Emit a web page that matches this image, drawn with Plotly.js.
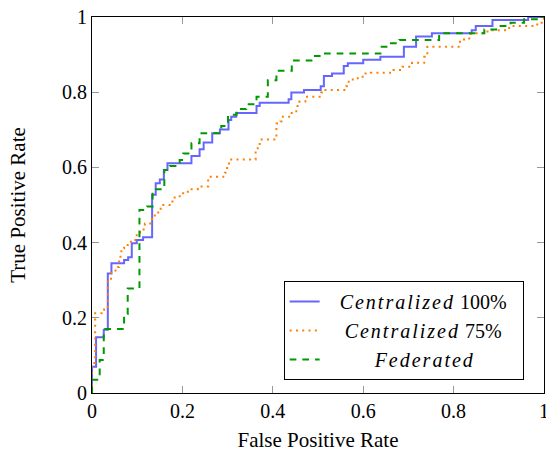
<!DOCTYPE html>
<html>
<head>
<meta charset="utf-8">
<script src="https://cdn.plot.ly/plotly-3.0.1.min.js"></script>
<style>html,body{margin:0;padding:0;background:#fff;}#plot{width:546px;height:452px;}</style>
</head>
<body>
<div id="plot"></div>
<script>
// Centralized 100% (blue)
const fprCentral100 = [0,0,0.009,0.026,0.035,0.043,0.071,0.080,0.088,0.099,0.113,0.133,0.141,0.150,0.159,0.167,0.220,0.238,0.247,0.266,0.283,0.302,0.308,0.319,0.364,0.371,0.435,0.441,0.469,0.506,0.513,0.531,0.557,0.566,0.600,0.638,0.690,0.717,0.752,0.840,0.849,0.886,0.965,1];
const tprCentral100 = [0,0.070,0.148,0.168,0.318,0.345,0.354,0.361,0.398,0.407,0.414,0.527,0.558,0.568,0.593,0.611,0.630,0.648,0.666,0.691,0.701,0.726,0.735,0.745,0.763,0.772,0.781,0.799,0.806,0.816,0.843,0.850,0.870,0.877,0.886,0.894,0.921,0.948,0.957,0.965,0.976,0.992,1.0,1.0];

// Centralized 75% (orange)
const fprCentral75 = [0,0,0.007,0.027,0.035,0.042,0.052,0.060,0.063,0.065,0.071,0.079,0.086,0.099,0.106,0.117,0.133,0.139,0.152,0.178,0.194,0.212,0.234,0.257,0.294,0.299,0.303,0.362,0.371,0.406,0.408,0.417,0.419,0.439,0.452,0.459,0.472,0.507,0.514,0.562,0.568,0.577,0.588,0.605,0.617,0.667,0.687,0.708,0.735,0.742,0.814,0.823,0.838,0.875,0.923,0.985,1];
const tprCentral75 = [0,0.080,0.212,0.223,0.300,0.320,0.335,0.355,0.370,0.385,0.390,0.398,0.407,0.426,0.435,0.451,0.469,0.480,0.500,0.520,0.531,0.542,0.549,0.575,0.586,0.604,0.621,0.651,0.674,0.682,0.717,0.722,0.735,0.745,0.763,0.775,0.788,0.799,0.806,0.816,0.828,0.834,0.841,0.850,0.852,0.859,0.868,0.878,0.894,0.921,0.937,0.943,0.957,0.965,0.976,0.985,1.0];

// Federated (green)
const fprFederated = [0,0,0.017,0.026,0.071,0.079,0.105,0.122,0.134,0.160,0.172,0.194,0.202,0.220,0.238,0.286,0.301,0.320,0.341,0.364,0.389,0.408,0.442,0.490,0.510,0.638,0.658,0.680,0.768,0.868,0.904,0.926,0.956,0.996,1];
const tprFederated = [0,0.035,0.088,0.170,0.210,0.278,0.487,0.496,0.542,0.593,0.604,0.620,0.637,0.664,0.691,0.710,0.740,0.755,0.768,0.788,0.832,0.857,0.884,0.896,0.903,0.921,0.930,0.939,0.957,0.967,0.976,0.985,0.994,1.0,1.0];

const tickVals = [0,0.2,0.4,0.6,0.8,1];
const tickText = ['0','0.2','0.4','0.6','0.8','1'];
const seriesLabels = ['Centralized', 'Centralized', 'Federated'];
const seriesSuffix = [' 100%', ' 75%', ''];
const seriesPad = [3, 4, 10];
const seriesTail = [2, 0, 0];

const serif = '"Liberation Serif", serif';

function legendName(i) {
  return '\u00a0'.repeat(seriesPad[i]) +
    '<i><span style="letter-spacing:2px">' + seriesLabels[i] + '</span></i>' + seriesSuffix[i] +
    '\u00a0'.repeat(seriesTail[i]);
}

const traces = [
  {x: fprCentral100, y: tprCentral100, name: legendName(0), mode: 'lines',
   line: {shape: 'hv', color: 'rgb(102,102,255)', width: 2}},
  {x: fprCentral75, y: tprCentral75, name: legendName(1), mode: 'lines',
   line: {shape: 'hv', color: 'rgb(255,128,0)', width: 2, dash: '2px,4.3px'}},
  {x: fprFederated, y: tprFederated, name: legendName(2), mode: 'lines',
   line: {shape: 'hv', color: 'rgb(0,153,0)', width: 2, dash: '6.7px,6px'}}
];

const axisCommon = {
  range: [0, 1], showgrid: false, zeroline: false,
  showline: true, linecolor: '#000', linewidth: 1, mirror: 'allticks',
  ticks: 'inside', ticklen: 7, tickwidth: 1, tickcolor: '#999',
  tickvals: tickVals, ticktext: tickText, ticklabeloverflow: 'allow',
  tickfont: {family: serif, size: 20, color: '#000'}
};

const layout = {
  width: 546, height: 452,
  margin: {l: 92, r: 2, t: 17, b: 59},
  paper_bgcolor: '#fff', plot_bgcolor: '#fff',
  showlegend: true,
  xaxis: Object.assign({}, axisCommon, {
    title: {text: 'False Positive Rate', font: {family: serif, size: 21, color: '#000'}, standoff: 14}
  }),
  yaxis: Object.assign({}, axisCommon, {
    title: {text: 'True Positive Rate', font: {family: serif, size: 21, color: '#000'}, standoff: 30}
  }),
  legend: {
    x: 0.424, y: 0.298, xanchor: 'left', yanchor: 'top',
    bgcolor: '#fff', bordercolor: '#000', borderwidth: 1,
    font: {family: serif, size: 20, color: '#000'},
    tracegroupgap: 0
  }
};

Plotly.newPlot('plot', traces, layout, {displayModeBar: false, staticPlot: true});
</script>
</body>
</html>
